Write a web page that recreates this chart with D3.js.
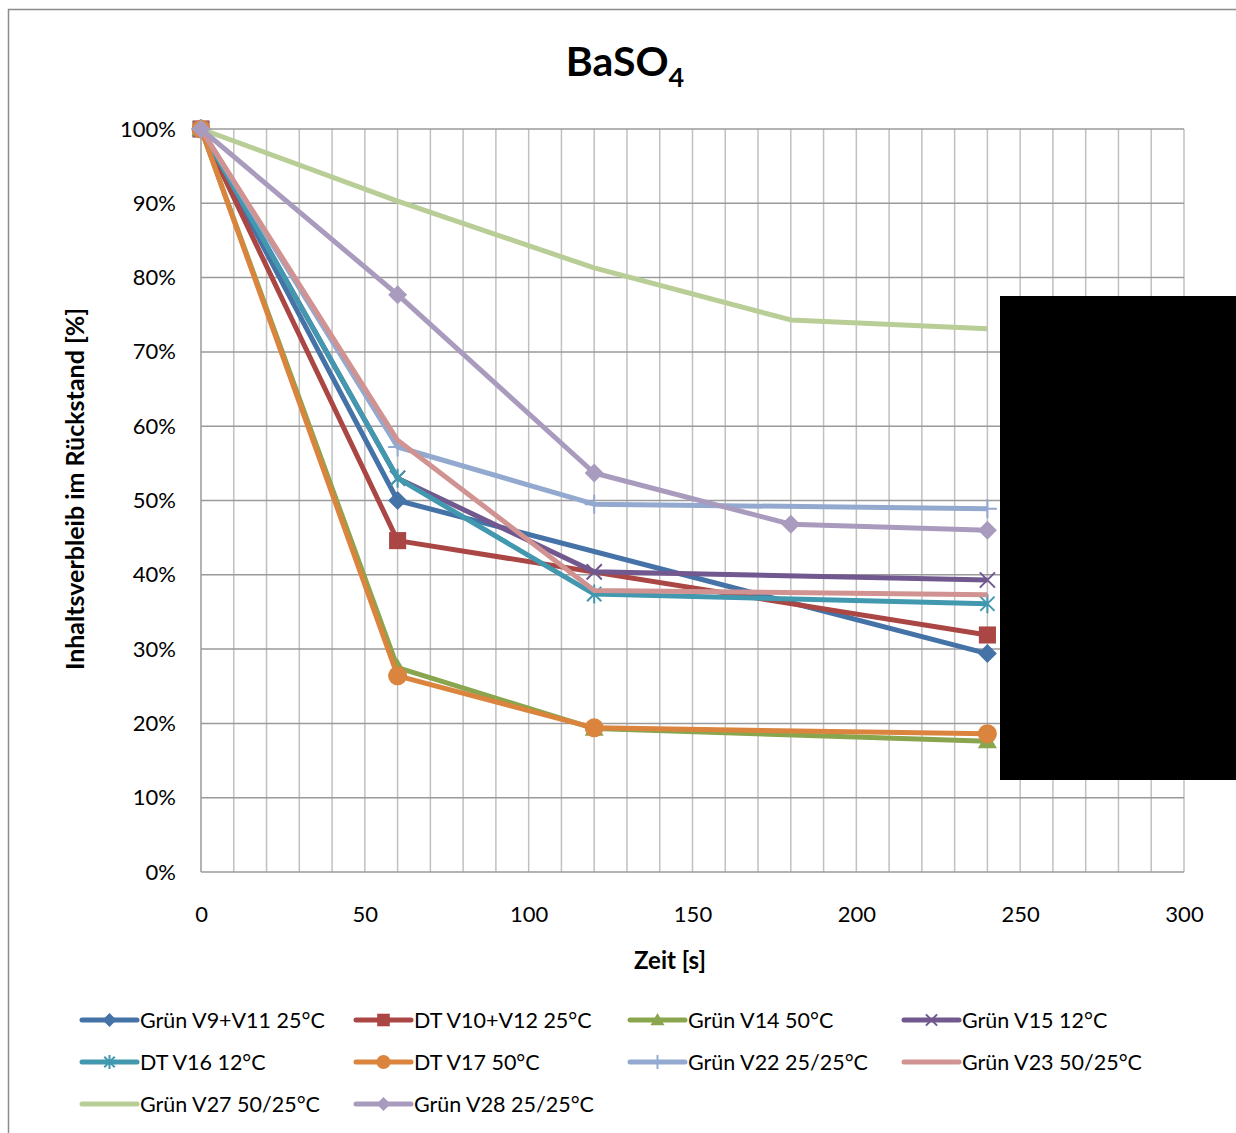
<!DOCTYPE html>
<html>
<head>
<meta charset="utf-8">
<script src="https://cdn.jsdelivr.net/npm/d3@7"></script>
<style>
  body { margin: 0; background: #fff; }
  text { font-family: Lato, "Open Sans", sans-serif; fill: #000; }
</style>
</head>
<body>
<div id="chart"></div>
<script>
// data (time in s, residue in %)
var times = [0, 60, 120, 180, 240];
var names = ["Grün V9+V11 25°C", "DT V10+V12 25°C", "Grün V14 50°C", "Grün V15 12°C",
             "DT V16 12°C", "DT V17 50°C", "Grün V22 25/25°C", "Grün V23 50/25°C",
             "Grün V27 50/25°C", "Grün V28 25/25°C"];
// null = no measurement at that time
var v9v11  = [100, 50.0, null, null, 29.4];
var v10v12 = [100, 44.6, null, null, 31.9];
var v14    = [100, 27.5, 19.3, null, 17.6];
var v15    = [100, 53.0, 40.4, null, 39.3];
var v16    = [100, 53.0, 37.4, null, 36.1];
var v17    = [100, 26.4, 19.4, null, 18.6];
var v22    = [100, 57.2, 49.5, null, 48.9];
var v23    = [100, 58.1, 37.9, null, 37.3];
var v27    = [100, 90.3, 81.3, 74.3, 73.1];
var v28    = [100, 77.7, 53.7, 46.8, 46.0];
var values = [v9v11, v10v12, v14, v15, v16, v17, v22, v23, v27, v28];
var colors = ["#4572a7", "#aa4643", "#89a54e", "#71588f", "#4198af",
              "#db843d", "#93a9cf", "#d19392", "#b9cd96", "#a99bbd"];
var markers = ["diamond", "square", "triangle", "x", "star", "circle", "plus", "none", "none", "diamond"];
var yTicks = [0, 10, 20, 30, 40, 50, 60, 70, 80, 90, 100];
var xTicks = [0, 50, 100, 150, 200, 250, 300];

var W = 1236, H = 1133;
var svg = d3.select("#chart").append("svg").attr("width", W).attr("height", H);

// outer chart border (clipped at right and bottom like the picture)
svg.append("path").attr("d", "M8.5," + H + "V9.5H" + W)
  .attr("fill", "none").attr("stroke", "#8c8c8c").attr("stroke-width", 1.5);

var x = d3.scaleLinear().domain([0, 300]).range([201, 1184]);
var y = d3.scaleLinear().domain([0, 100]).range([872, 129]);

// vertical grid every 10 s
svg.append("g").selectAll("line").data(d3.range(10, 301, 10)).enter().append("line")
  .attr("x1", function(d) { return x(d); }).attr("x2", function(d) { return x(d); })
  .attr("y1", y(0)).attr("y2", y(100))
  .attr("stroke", "#c0c0c0").attr("stroke-width", 1.5);
// horizontal grid every 10 %
svg.append("g").selectAll("line").data(yTicks).enter().append("line")
  .attr("x1", x(0)).attr("x2", x(300))
  .attr("y1", function(d) { return y(d); }).attr("y2", function(d) { return y(d); })
  .attr("stroke", "#9a9a9a").attr("stroke-width", 1.5);
svg.append("line").attr("x1", x(0)).attr("x2", x(0)).attr("y1", y(0)).attr("y2", y(100))
  .attr("stroke", "#9a9a9a").attr("stroke-width", 1.5);

// axes labels via d3 axes with hidden lines
var yAxis = svg.append("g").attr("transform", "translate(" + (x(0) - 25) + ",0)")
  .call(d3.axisLeft(y).tickValues(yTicks).tickSize(0).tickPadding(0).tickFormat(function(d) { return d + "%"; }));
var xAxis = svg.append("g").attr("transform", "translate(0," + (y(0) + 34) + ")")
  .call(d3.axisBottom(x).tickValues(xTicks).tickSize(0).tickPadding(0));
[yAxis, xAxis].forEach(function(a) {
  a.select(".domain").remove();
  a.selectAll("text").style("font-family", "Lato, sans-serif").style("font-size", "22px").attr("fill", "#000");
});

// title
var title = svg.append("text").attr("x", 625).attr("y", 76).attr("text-anchor", "middle")
  .style("font-size", "41px").style("font-weight", "bold");
title.append("tspan").text("BaSO");
title.append("tspan").attr("dy", 11).style("font-size", "27px").text("4");

svg.append("text").attr("x", 670).attr("y", 969).attr("text-anchor", "middle")
  .style("font-size", "24px").style("font-weight", "bold").text("Zeit [s]");
svg.append("text").attr("transform", "translate(84,489) rotate(-90)").attr("text-anchor", "middle")
  .style("font-size", "25px").style("font-weight", "bold").text("Inhaltsverbleib im Rückstand [%]");

function markerPath(type, s) {
  var h = s / 2;
  if (type == "diamond") return "M0," + (-h) + "L" + h + ",0L0," + h + "L" + (-h) + ",0Z";
  if (type == "square") { var q = h * 0.9; return "M" + (-q) + "," + (-q) + "H" + q + "V" + q + "H" + (-q) + "Z"; }
  if (type == "triangle") return "M0," + (-h) + "L" + h + "," + (h * 0.75) + "H" + (-h) + "Z";
  if (type == "x") { var a = h * 0.8; return "M" + (-a) + "," + (-a) + "L" + a + "," + a + "M" + a + "," + (-a) + "L" + (-a) + "," + a; }
  if (type == "star") { var b = h * 0.75; return "M" + (-b) + "," + (-b) + "L" + b + "," + b + "M" + b + "," + (-b) + "L" + (-b) + "," + b + "M0," + (-h) + "V" + h; }
  if (type == "plus") return "M0," + (-h) + "V" + h + "M" + (-h) + ",0H" + h;
  return "";
}
function drawMarker(g, type, color, cx, cy, s) {
  if (type == "none") return;
  if (type == "circle") {
    g.append("circle").attr("cx", cx).attr("cy", cy).attr("r", s / 2).attr("fill", color);
    return;
  }
  var filled = (type == "diamond" || type == "square" || type == "triangle");
  g.append("path").attr("transform", "translate(" + cx + "," + cy + ")")
    .attr("d", markerPath(type, s))
    .attr("fill", filled ? color : "none")
    .attr("stroke", filled ? "none" : color).attr("stroke-width", 2);
}

var line = d3.line().x(function(d) { return x(d.t); }).y(function(d) { return y(d.v); });

names.forEach(function(name, i) {
  var pts = [];
  times.forEach(function(t, j) { if (values[i][j] != null) pts.push({ t: t, v: values[i][j] }); });
  var g = svg.append("g");
  g.append("path").datum(pts).attr("d", line).attr("fill", "none")
    .attr("stroke", colors[i]).attr("stroke-width", 5).attr("stroke-linejoin", "round");
  pts.forEach(function(p) { drawMarker(g, markers[i], colors[i], x(p.t), y(p.v), 19); });
});

// legend
var leg = svg.append("g");
names.forEach(function(name, i) {
  var lx = 82 + (i % 4) * 274, ly = 1020 + Math.floor(i / 4) * 42;
  var g = leg.append("g");
  g.append("line").attr("x1", lx).attr("x2", lx + 55).attr("y1", ly).attr("y2", ly)
    .attr("stroke", colors[i]).attr("stroke-width", 5).attr("stroke-linecap", "round");
  drawMarker(g, markers[i], colors[i], lx + 27.5, ly, 14);
  g.append("text").attr("x", lx + 58).attr("y", ly).attr("dy", "0.35em")
    .style("font-size", "21.5px").text(name);
});

// black cover box present in the reference
svg.append("rect").attr("x", 1000).attr("y", 296).attr("width", 236).attr("height", 484).attr("fill", "#000");
</script>
</body>
</html>
